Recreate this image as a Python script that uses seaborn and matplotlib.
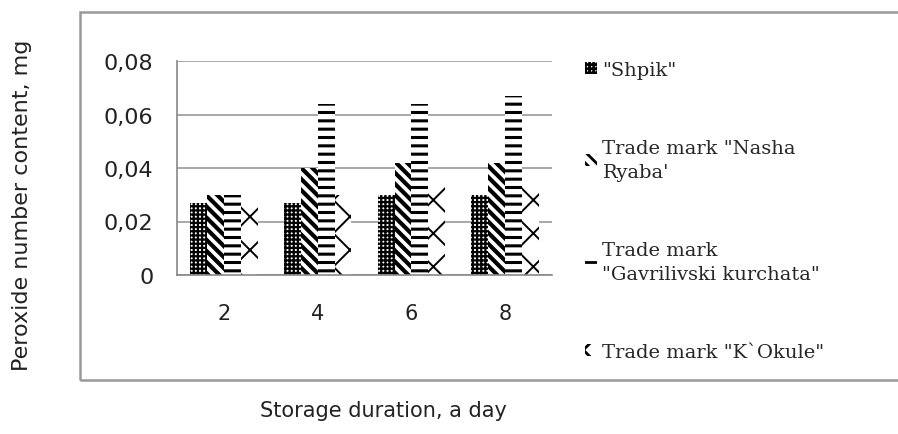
import matplotlib
matplotlib.use("Agg")
import matplotlib.pyplot as plt
import matplotlib.patches as mpatches
from matplotlib.ticker import FuncFormatter, FixedLocator
import seaborn as sns
import pandas as pd

# Data
days = ["2", "4", "6", "8"]
brands = ['"Shpik"', 'Trade mark "Nasha\nRyaba\'', 'Trade mark\n"Gavrilivski kurchata"', 'Trade mark "K`Okule"']
shpik = [0.027, 0.027, 0.030, 0.030]
nasha = [0.030, 0.040, 0.042, 0.042]
gavril = [0.030, 0.064, 0.064, 0.067]
okule = [0.030, 0.030, 0.035, 0.035]
hatches = ["++++", "\\\\\\", "--", "x"]
hatch_lw = [1.6, 3.0, 2.2, 1.4]

rows = []
for b, vals in zip(brands, [shpik, nasha, gavril, okule]):
    for d, v in zip(days, vals):
        rows.append({"day": d, "brand": b, "value": v})
df = pd.DataFrame(rows)

sns.set_style("white")
plt.rcParams["font.family"] = ["DejaVu Sans"]
plt.rcParams["hatch.linewidth"] = 2.0
plt.rcParams["hatch.color"] = "black"

fig = plt.figure(figsize=(8.98, 4.35), dpi=100)
ax = fig.add_axes([177 / 898, 1 - 276 / 435, 375 / 898, 214 / 435])

sns.barplot(data=df, x="day", y="value", hue="brand", hue_order=brands,
            palette=["white"] * 4, edgecolor="black", linewidth=0,
            width=0.72, gap=0, ax=ax, legend=False)

for cont, h, hl in zip(ax.containers, hatches, hatch_lw):
    for bar in cont:
        bar.set_hatch(h)
        bar.set_edgecolor("black")
        bar.set_linewidth(0)
        if hasattr(bar, "set_hatch_linewidth"):
            bar.set_hatch_linewidth(hl)

ax.set_ylim(0, 0.08)
ax.set_xlim(-0.5, 3.5)
ax.set_yticks([0, 0.02, 0.04, 0.06, 0.08])
ax.yaxis.set_major_formatter(FuncFormatter(lambda v, p: "0" if v == 0 else f"{v:.2f}".replace(".", ",")))
ax.xaxis.set_minor_locator(FixedLocator([-0.5, 0.5, 1.5, 2.5, 3.5]))
ax.tick_params(axis="x", which="major", length=0, labelsize=15, pad=20, colors="#222222")
ax.tick_params(axis="x", which="minor", length=7, width=1.2, color="#888888", direction="out")
ax.tick_params(axis="y", length=9, width=1.2, color="#888888", labelsize=16, pad=8, labelcolor="#222222")
ax.set_xlabel("")
ax.set_ylabel("")
ax.grid(axis="y", color="#999999", linewidth=1.2)
ax.set_axisbelow(True)
for s in ["top", "right"]:
    ax.spines[s].set_visible(False)
for s in ["left", "bottom"]:
    ax.spines[s].set_color("#888888")
    ax.spines[s].set_linewidth(1.2)

# chart area frame
frame = mpatches.Rectangle((80 / 898, 1 - 381 / 435), 1.0, (381 - 13) / 435,
                           transform=fig.transFigure, fill=False,
                           edgecolor="#999999", linewidth=1.8)
fig.add_artist(frame)

fig.text(22 / 898, 1 - 205 / 435, "Peroxide number content, mg", rotation=90,
         ha="center", va="center", fontsize=16, color="#222222")
fig.text(383 / 898, 1 - 411 / 435, "Storage duration, a day",
         ha="center", va="center", fontsize=15, color="#222222")

leg = fig.legend([c.patches[0] for c in ax.containers], brands,
                 loc="upper left", bbox_to_anchor=(585 / 898, 1 - 62 / 435),
                 frameon=False, prop={"family": "DejaVu Serif", "size": 14},
                 handlelength=0.6, handleheight=0.6, handletextpad=0.3,
                 labelspacing=3.1, borderpad=0, borderaxespad=0)
for t in leg.get_texts():
    t.set_linespacing(1.4)

fig.savefig("out.png", dpi=100)
